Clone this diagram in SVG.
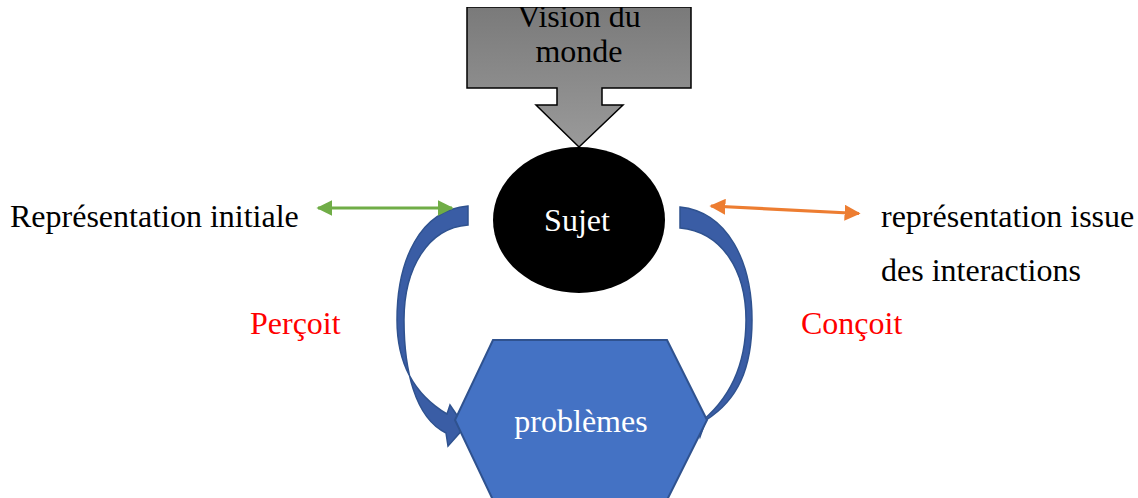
<svg xmlns="http://www.w3.org/2000/svg" width="1138" height="498" viewBox="0 0 1138 498">
<style>
text{font-family:"Liberation Serif","Times New Roman",serif;font-size:32px}
.blk{fill:#000}
.wht{fill:#fff}
.red{fill:#ff0000}
.curv{fill:#3A5DA5;stroke:#2F528F;stroke-width:1.5}
</style>
<defs>
<linearGradient id="g" x1="0" y1="0" x2="0" y2="1">
<stop offset="0" stop-color="#7a7a7a"/>
<stop offset="1" stop-color="#9a9a9a"/>
</linearGradient>
<clipPath id="clipTop"><rect x="0" y="7" width="1138" height="491"/></clipPath>
<marker id="gh" markerWidth="5" markerHeight="5" refX="4.5" refY="2.5" orient="auto-start-reverse" markerUnits="strokeWidth"><path d="M0,0 L5,2.5 L0,5 Z" fill="#70AD47"/></marker>
<marker id="oh" markerWidth="5" markerHeight="5" refX="4.5" refY="2.5" orient="auto-start-reverse" markerUnits="strokeWidth"><path d="M0,0 L5,2.5 L0,5 Z" fill="#ED7D31"/></marker>
</defs>
<g id="connectors">
<path class="curv" d="M468,206 C420,210 397,260 397,320 C397,365 415,395 447,414 L450,405 L465,427 L448,446 L446,433 C415,418 404,370 404,320 C404,268 428,228 468,225 Z"/>
<path class="curv" d="M680,207 C728,212 752,262 752,320 C752,368 738,400 706,420 L700,437 L697,425 C730,400 746,365 746,320 C746,270 722,232 680,228 Z"/>
<line x1="318" y1="208" x2="452" y2="208" stroke="#70AD47" stroke-width="3.2" marker-start="url(#gh)" marker-end="url(#gh)"/>
<line x1="711" y1="206" x2="859" y2="213.5" stroke="#ED7D31" stroke-width="3.2" marker-start="url(#oh)" marker-end="url(#oh)"/>
</g>
<g id="vision" clip-path="url(#clipTop)">
<path d="M467,7 L691,7 L691,88 L602,88 L602,105 L623,105 L579,147 L536,105 L557,105 L557,88 L467,88 Z" fill="url(#g)" stroke="#000" stroke-width="1.5"/>
<text class="blk" x="579" y="27" text-anchor="middle">Vision du</text>
<text class="blk" x="579" y="62" text-anchor="middle">monde</text>
</g>
<g id="sujet">
<ellipse cx="579" cy="220" rx="86" ry="73" fill="#000"/>
<text class="wht" x="577" y="231" text-anchor="middle">Sujet</text>
</g>
<g id="problemes">
<path d="M493,340 L667,340 L707,420 L667,500 L493,500 L455,420 Z" fill="#4472C4" stroke="#2F528F" stroke-width="2"/>
<text class="wht" x="581" y="432" text-anchor="middle">problèmes</text>
</g>
<g id="labels">
<text class="blk" x="10" y="227">Représentation initiale</text>
<text class="blk" x="881" y="227">représentation issue</text>
<text class="blk" x="881" y="281">des interactions</text>
<text class="red" x="250" y="334">Perçoit</text>
<text class="red" x="801" y="334">Conçoit</text>
</g>
</svg>
